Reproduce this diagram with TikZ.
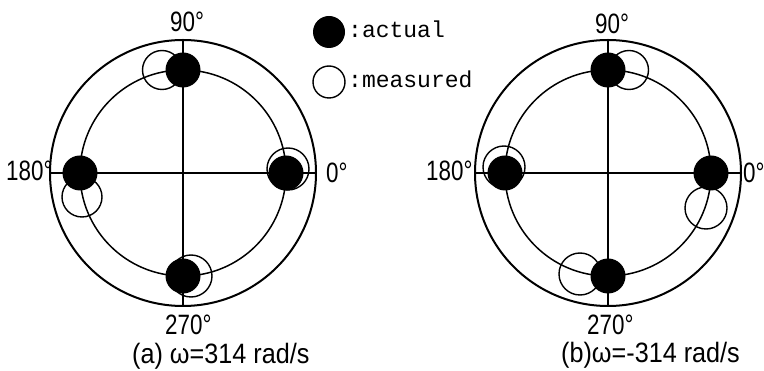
\documentclass[tikz,border=0pt]{standalone}
\usepackage{fontspec}
\newfontfamily\labfont[FakeStretch=0.8]{Liberation Sans}
\newfontfamily\capfont[FakeStretch=0.9]{Liberation Sans}
\newfontfamily\legfont{Liberation Mono}
\begin{document}
\begin{tikzpicture}[x=1pt,y=-1pt,
  outerring/.style={line width=2pt},
  innerring/.style={line width=1.5pt},
  axisline/.style={line width=1.4pt},
  actualdot/.style={circle,fill=black,inner sep=0pt,minimum size=35pt},
  measuredring/.style={circle,draw=black,line width=1.4pt,inner sep=0pt,minimum size=#1},
  measuredring/.default=40pt,
  deglabel/.style={anchor=base west,inner sep=0pt,font=\labfont\fontsize{28}{30}\selectfont},
  caplabel/.style={anchor=base west,inner sep=0pt,font=\capfont\fontsize{28}{30}\selectfont},
  leglabel/.style={anchor=base west,inner sep=0pt,font=\legfont\fontsize{23}{25}\selectfont}]
\useasboundingbox (0,0) rectangle (764,371);
\fill[white] (0,0) rectangle (764,371);

% ---------- (a) ----------
\coordinate (ca) at (183,173);
\draw[outerring] (ca) circle[radius=133pt];
\draw[innerring] (ca) circle[radius=103pt];
\coordinate (aT) at (183,40);
\coordinate (aB) at (183,306);
\coordinate (aL) at (50,173);
\coordinate (aR) at (316,173);
\draw[axisline] (aT) -- (aB);
\draw[axisline] (aL) -- (aR);
\node[measuredring=39pt] (am90) at (162,70) {};
\node[measuredring=40pt] (am180) at (82,197) {};
\node[measuredring=42pt] (am0) at (288,169) {};
\node[measuredring=42pt] (am270) at (191,276) {};
\node[actualdot] (aa90) at (183,70) {};
\node[actualdot] (aa180) at (80,173) {};
\node[actualdot] (aa0) at (286,173) {};
\node[actualdot] (aa270) at (183,276) {};
\node[deglabel] (al90) at (170,32) {90°};
\node[deglabel] (al180) at (6,181) {180°};
\node[deglabel] (al0) at (326,183) {0°};
\node[deglabel] (al270) at (165,335) {270°};
\node[caplabel] (acap) at (132,364) {(a) ω=314 rad/s};

% ---------- (b) ----------
\coordinate (cb) at (608,173);
\draw[outerring] (cb) circle[radius=133pt];
\draw[innerring] (cb) circle[radius=103pt];
\coordinate (bT) at (608,40);
\coordinate (bB) at (608,306);
\coordinate (bL) at (475,173);
\coordinate (bR) at (741,173);
\draw[axisline] (bT) -- (bB);
\draw[axisline] (bL) -- (bR);
\node[measuredring=39pt] (bm90) at (629,70) {};
\node[measuredring=42pt] (bm180) at (504,167) {};
\node[measuredring=42pt] (bm0) at (706,208) {};
\node[measuredring=42pt] (bm270) at (580,274) {};
\node[actualdot] (ba90) at (608,70) {};
\node[actualdot] (ba180) at (505,173) {};
\node[actualdot] (ba0) at (711,173) {};
\node[actualdot] (ba270) at (608,276) {};
\node[deglabel] (bl90) at (595,34) {90°};
\node[deglabel] (bl180) at (426,181) {180°};
\node[deglabel] (bl0) at (743,183) {0°};
\node[deglabel] (bl270) at (587,335) {270°};
\node[caplabel] (bcap) at (561,363) {(b)ω=-314 rad/s};

% ---------- legend ----------
\node[circle,fill=black,inner sep=0pt,minimum size=32pt] (legA) at (329,32) {};
\node[circle,draw=black,line width=1.4pt,inner sep=0pt,minimum size=32pt] (legM) at (329,82) {};
\node[leglabel] (legAt) at (348,38) {:actual};
\node[leglabel] (legMt) at (348,88) {:measured};
\end{tikzpicture}
\end{document}
